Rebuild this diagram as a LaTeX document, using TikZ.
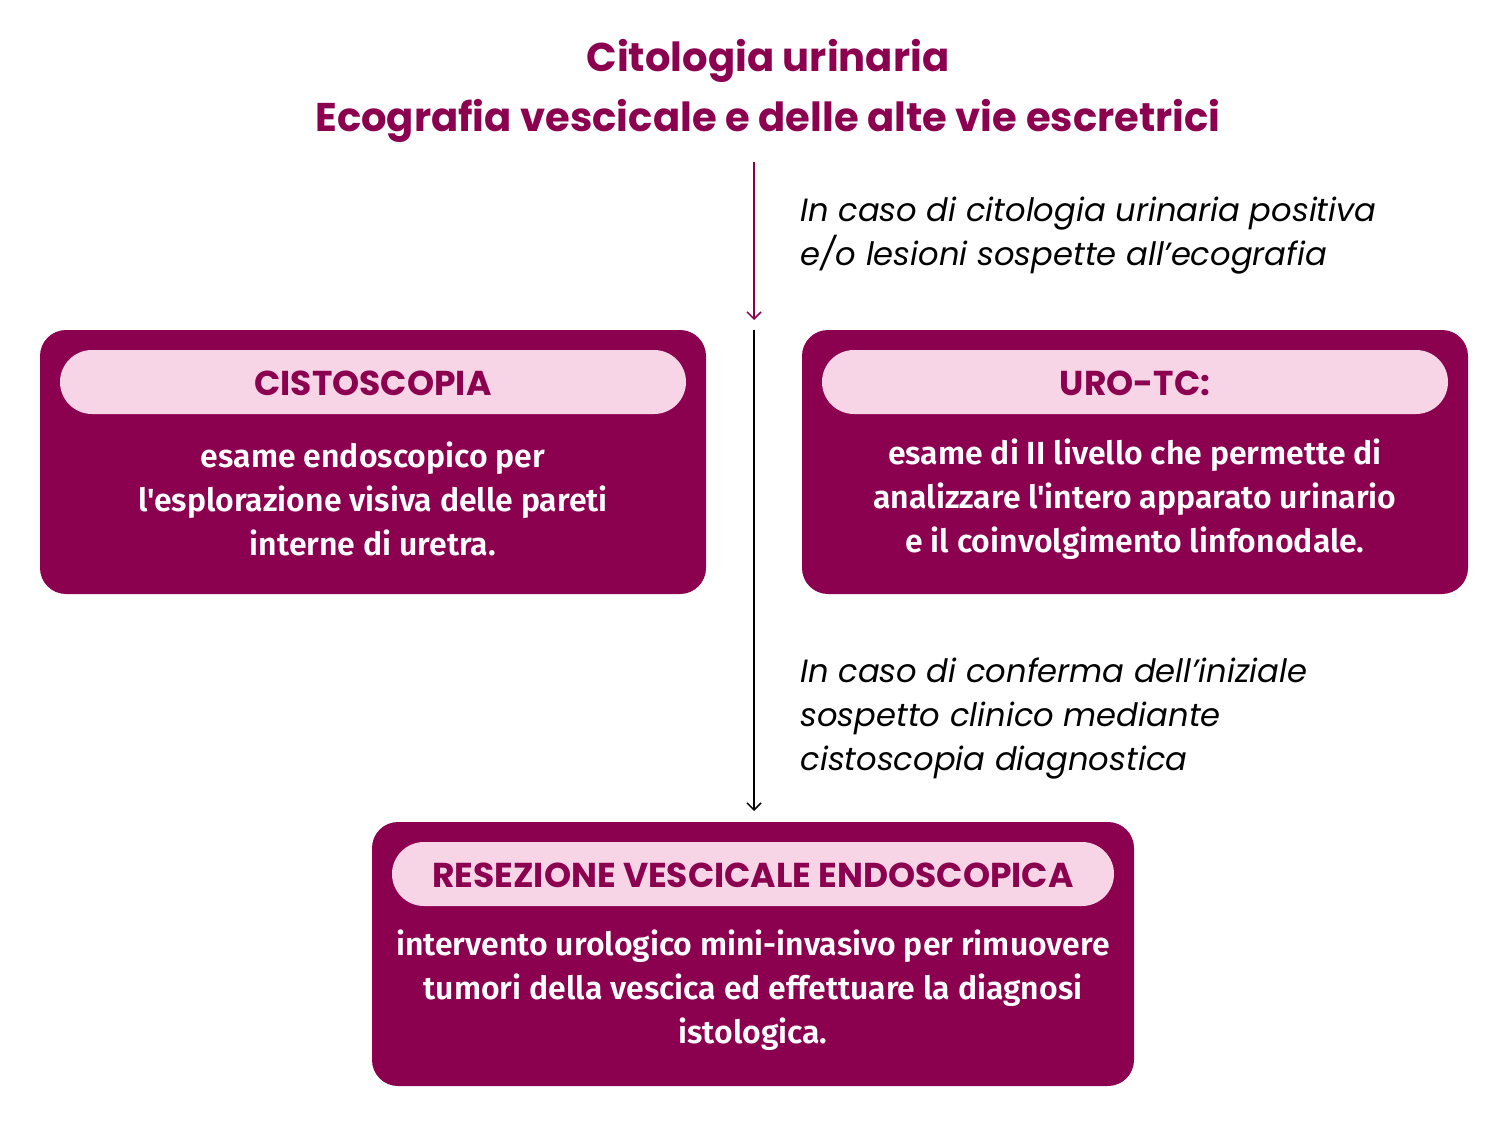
\documentclass[tikz,border=0pt]{standalone}
\usepackage{fontspec}
\usetikzlibrary{arrows.meta}
\newfontfamily\titlefont{Poppins}[UprightFont=* Bold]
\newfontfamily\bodyfont{Fira Sans}[UprightFont=* SemiBold]
\newfontfamily\noteFont{Poppins}[UprightFont=* Italic]
\definecolor{mag}{HTML}{8C0050}
\definecolor{pinkl}{HTML}{F7D4E6}
\tikzset{
  outerbox/.style={fill=mag, rounded corners=26pt},
  headbox/.style={fill=pinkl, rounded corners=32pt},
  headtext/.style={font=\titlefont\fontsize{34.5}{40}\selectfont, text=mag},
  bodytext/.style={font=\bodyfont\fontsize{32}{44}\selectfont, text=white, align=center},
  notetext/.style={font=\noteFont\fontsize{32.2}{44}\selectfont, text=black, align=left, anchor=west},
  arr/.style={line width=1.5pt, -{Straight Barb[length=7pt,width=14pt,line width=1.5pt]}}
}
\begin{document}
\begin{tikzpicture}[x=1pt,y=-1pt]
\useasboundingbox (0,0) rectangle (1508,1126);
% title
\node[font=\titlefont\fontsize{40.1}{60}\selectfont, text=mag, align=center] (title) at (768,91) {Citologia urinaria\\Ecografia vescicale e delle alte vie escretrici};
% boxes
\fill[outerbox] (40,330) rectangle (706,594);
\fill[outerbox] (802,330) rectangle (1468,594);
\fill[outerbox] (372,822) rectangle (1134,1086);
\fill[headbox] (60,350) rectangle (686,414);
\fill[headbox] (822,350) rectangle (1448,414);
\fill[headbox] (392,842) rectangle (1114,906);
\node[headtext] (h1) at (373,383) {CISTOSCOPIA};
\node[headtext] (h2) at (1135,383) {URO-TC:};
\node[headtext] (h3) at (753,875) {RESEZIONE VESCICALE ENDOSCOPICA};
\node[bodytext] (b1) at (373,499) {esame endoscopico per\\l'esplorazione visiva delle pareti\\interne di uretra.};
\node[bodytext] (b2) at (1135,499) {esame di II livello che permette di\\analizzare l'intero apparato urinario\\e il coinvolgimento linfonodale.};
\node[bodytext] (b3) at (753,990) {intervento urologico mini-invasivo per rimuovere\\tumori della vescica ed effettuare la diagnosi\\istologica.};
% notes
\node[notetext] (n1) at (797,236) {In caso di citologia urinaria positiva\\e/o lesioni sospette all’ecografia};
\node[notetext] (n2) at (797,719) {In caso di conferma dell’iniziale\\sospetto clinico mediante\\cistoscopia diagnostica};
% arrows
\coordinate (a1s) at (754,162);
\coordinate (a1e) at (754,320);
\coordinate (a2s) at (754,330);
\coordinate (a2e) at (754,811);
\draw[arr, draw=mag] (a1s) -- (a1e);
\draw[arr, draw=black] (a2s) -- (a2e);
\end{tikzpicture}
\end{document}
